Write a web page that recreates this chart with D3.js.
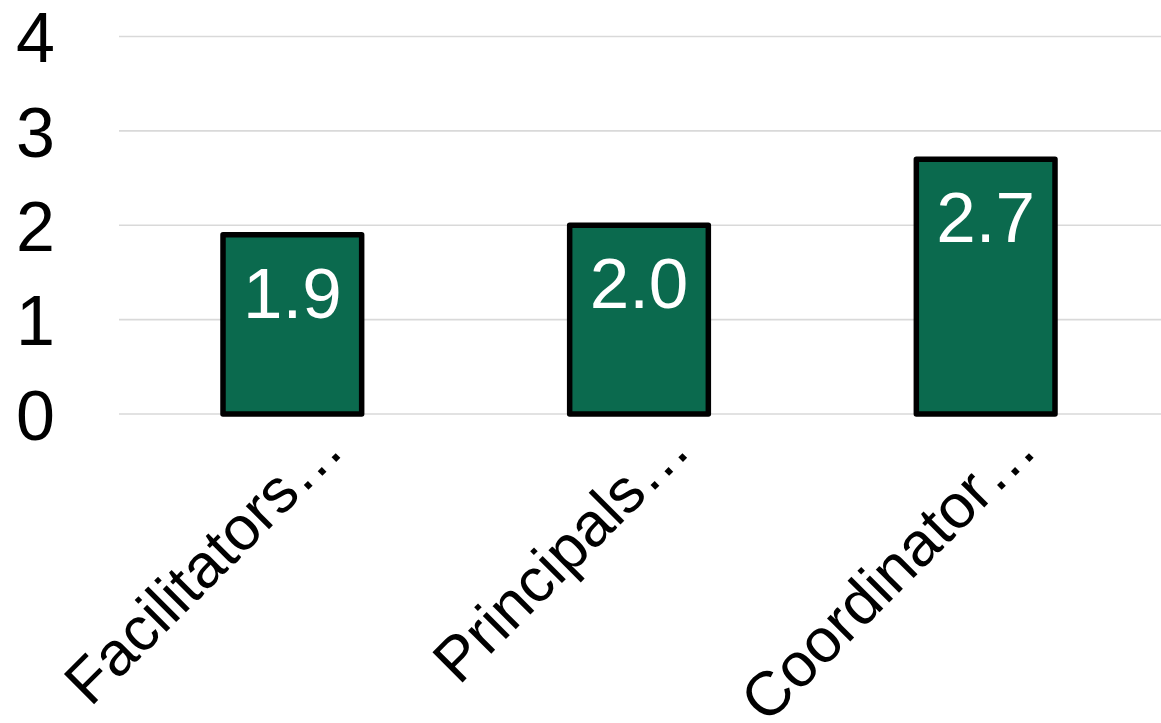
<!DOCTYPE html>
<html>
<head>
<meta charset="utf-8">
<script src="https://cdn.jsdelivr.net/npm/d3@7"></script>
<style>
  html, body { margin: 0; padding: 0; background: #ffffff; }
  svg { display: block; font-family: "Liberation Sans", Arial, sans-serif; }
</style>
</head>
<body>
<svg id="chart" width="1161" height="723"></svg>
<script>
// Average scores by respondent group
const categories = ["Facilitators…", "Principals…", "Coordinator…"];
const values = [1.9, 2.0, 2.7];
const yTicks = [0, 1, 2, 3, 4];

const width = 1161, height = 723;
const margin = { top: 36.5, right: 2, bottom: 309, left: 119 };

const svg = d3.select("#chart");

const x = d3.scaleBand()
  .domain(categories)
  .range([margin.left, width - margin.right])
  .paddingInner(0.6)
  .paddingOuter(0.3);

const y = d3.scaleLinear()
  .domain([0, 4])
  .range([height - margin.bottom, margin.top]);

// Horizontal gridlines
svg.append("g")
  .selectAll("line")
  .data(yTicks)
  .join("line")
  .attr("x1", margin.left)
  .attr("x2", width)
  .attr("y1", d => y(d))
  .attr("y2", d => y(d))
  .attr("stroke", "#d9d9d9")
  .attr("stroke-width", 1.6);

// Y axis tick labels
const yAxis = d3.axisLeft(y).tickValues(yTicks).tickSize(0).tickPadding(0).tickFormat(d3.format("d"));
const yAxisG = svg.append("g")
  .attr("transform", `translate(55,0)`)
  .call(yAxis);
yAxisG.select(".domain").remove();
yAxisG.selectAll("text")
  .attr("font-family", "Liberation Sans, Arial, sans-serif")
  .attr("font-size", 70)
  .attr("fill", "#000")
  .attr("dy", "0.36em");

// Bars
const bw = x.bandwidth();
svg.append("g")
  .selectAll("rect")
  .data(values)
  .join("rect")
  .attr("x", (d, i) => x(categories[i]))
  .attr("y", d => y(d))
  .attr("width", bw)
  .attr("height", d => y(0) - y(d))
  .attr("fill", "#0b6a4e")
  .attr("stroke", "#000")
  .attr("stroke-width", 5.5)
  .attr("stroke-linejoin", "round");

// Value labels inside bars
svg.append("g")
  .selectAll("text")
  .data(values)
  .join("text")
  .attr("x", (d, i) => x(categories[i]) + bw / 2)
  .attr("y", d => y(d) + 83)
  .attr("text-anchor", "middle")
  .attr("font-size", 71)
  .attr("fill", "#ffffff")
  .text(d => d3.format(".1f")(d));

// Rotated category labels
const xAxis = d3.axisBottom(x).tickSize(0).tickPadding(0);
const xAxisG = svg.append("g")
  .attr("transform", `translate(0,${y(0)})`)
  .call(xAxis);
xAxisG.select(".domain").remove();
xAxisG.selectAll("text")
  .attr("font-family", "Liberation Sans, Arial, sans-serif")
  .attr("font-size", 62)
  .attr("fill", "#000")
  .attr("text-anchor", "end")
  .attr("dy", null)
  .attr("y", null)
  .attr("transform", "translate(54,38) rotate(-45)");
</script>
</body>
</html>
